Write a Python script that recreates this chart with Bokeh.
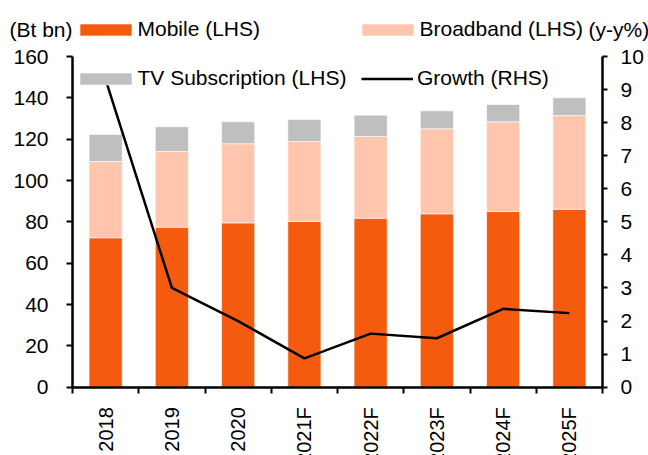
import numpy as np
from bokeh.plotting import figure
from bokeh.models import (ColumnDataSource, Range1d, LinearAxis, FixedTicker,
                          Legend, LegendItem, Label, CustomJSTickFormatter)
from bokeh.embed import file_html
from bokeh.resources import INLINE

categories = ["2018", "2019", "2020", "2021F", "2022F", "2023F", "2024F", "2025F"]
mobile = [72.3, 77.4, 79.5, 80.2, 81.8, 83.9, 85.0, 86.1]
broadband = [36.9, 36.6, 38.3, 38.7, 39.5, 41.1, 43.4, 45.3]
tv = [13.1, 12.0, 10.6, 10.6, 10.3, 8.7, 8.4, 8.6]
growth = [9.3, 3.0, 2.0, 0.87, 1.62, 1.48, 2.37, 2.24]
left_ticks = list(range(0, 161, 20))
right_ticks = list(range(0, 11))

FONT = "Liberation Sans"
FS = "21px"
W, H = 648, 455
# frame geometry (pixels) of the plotting area inside the canvas
X0, X1, Y0, Y1 = 72.0, 602.0, 386.7, 56.0

n = len(categories)
xpos = np.arange(n) + 0.5
src = ColumnDataSource(dict(x=xpos, mobile=mobile, broadband=broadband, tv=tv, growth=growth))

kx = (X1 - X0) / n
ky = (Y0 - Y1) / left_ticks[-1]
kr = (Y0 - Y1) / right_ticks[-1]
x_range = Range1d(-X0 / kx, n + (W - X1) / kx)
y_range = Range1d(-(H - Y0) / ky, Y0 / ky)

p = figure(width=W, height=H, output_backend="svg", toolbar_location=None,
           x_range=x_range, y_range=y_range, min_border=0,
           x_axis_location=None, y_axis_location=None)
p.outline_line_color = None
p.grid.visible = False
p.background_fill_color = "white"
p.border_fill_color = "white"

bars = p.vbar_stack(["mobile", "broadband", "tv"], x="x", width=0.5, source=src,
                    fill_color=["#F55B0F", "#FFC6AD", "#BFBFBF"],
                    line_color="white", line_width=0.6)

p.extra_y_ranges = {"g": Range1d(-(H - Y0) / kr, Y0 / kr)}
gline = p.line("x", "growth", source=src, y_range_name="g", line_color="black", line_width=2.5)

# x axis at y=0: labels at category centres, ticks at category boundaries
xa = LinearAxis(fixed_location=0, bounds=(0, n),
                ticker=FixedTicker(ticks=list(xpos), minor_ticks=list(range(n + 1))),
                formatter=CustomJSTickFormatter(args=dict(cats=categories),
                                                code="const i = Math.floor(tick); return (i >= 0 && i < cats.length) ? cats[i] : '';"))
xa.major_tick_out = 0
xa.major_tick_in = 0
xa.major_tick_line_color = None
xa.minor_tick_out = 6
xa.minor_tick_in = 0
xa.minor_tick_line_width = 2
xa.axis_line_width = 2.5
xa.major_label_orientation = np.pi / 2
xa.major_label_standoff = 14
xa.major_label_text_font = FONT
xa.major_label_text_font_size = "20px"
xa.major_label_text_color = "black"
p.add_layout(xa, "below")

ya = LinearAxis(fixed_location=0, bounds=(0, left_ticks[-1]), ticker=FixedTicker(ticks=left_ticks))
ya.major_tick_out = 6
ya.major_tick_in = 0
ya.minor_tick_out = 0
ya.minor_tick_in = 0
ya.axis_line_width = 2.5
ya.major_tick_line_width = 2
ya.major_label_standoff = 18
ya.major_label_text_font = FONT
ya.major_label_text_font_size = FS
ya.major_label_text_color = "black"
p.add_layout(ya, "left")

ra = LinearAxis(y_range_name="g", fixed_location=n, bounds=(0, right_ticks[-1]),
                ticker=FixedTicker(ticks=right_ticks))
ra.major_tick_out = 5
ra.major_tick_in = 0
ra.minor_tick_out = 0
ra.minor_tick_in = 0
ra.axis_line_width = 2.5
ra.major_tick_line_width = 2
ra.major_label_standoff = 13
ra.major_label_text_font = FONT
ra.major_label_text_font_size = FS
ra.major_label_text_color = "black"
p.add_layout(ra, "right")

def mk_legend(items, loc, gw, gh, standoff):
    lg = Legend(items=items, location=loc, orientation="vertical",
                glyph_width=gw, glyph_height=gh, label_standoff=standoff,
                label_text_font=FONT, label_text_font_size=FS, label_text_color="black",
                label_height=24, spacing=25, padding=0, margin=0,
                border_line_color=None, background_fill_alpha=0)
    p.add_layout(lg)

mk_legend([LegendItem(label="Mobile (LHS)", renderers=[bars[0]]),
           LegendItem(label="TV Subscription (LHS)", renderers=[bars[2]])],
          (72.5, H - 90), 65, 15, -3)
mk_legend([LegendItem(label="Broadband (LHS)", renderers=[bars[1]])],
          (354.5, H - 41), 65, 15, -3)
mk_legend([LegendItem(label="Growth (RHS)", renderers=[gline])],
          (361, H - 90), 52, 15, 4)

p.add_layout(Label(x=9, y=H - 29, x_units="screen", y_units="screen", text="(Bt bn)",
                   text_baseline="middle", text_font=FONT, text_font_size=FS, text_color="black"))
p.add_layout(Label(x=588, y=H - 29, x_units="screen", y_units="screen", text="(y-y%)",
                   text_baseline="middle", text_font=FONT, text_font_size=FS, text_color="black"))

open("out.html", "w").write(file_html(p, INLINE))
